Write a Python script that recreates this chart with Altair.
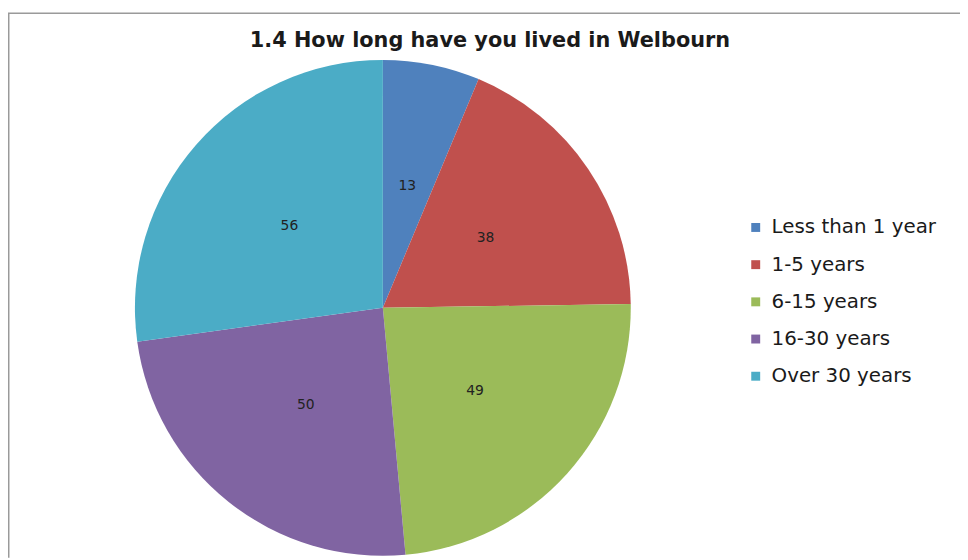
import altair as alt
import pandas as pd

# ---- data ----
categories = ["Less than 1 year", "1-5 years", "6-15 years", "16-30 years", "Over 30 years"]
counts = [13, 38, 49, 50, 56]
colors = ["#4F81BD", "#C0504D", "#9BBB59", "#8064A2", "#4BACC6"]
title_text = "1.4 How long have you lived in Welbourn"

df = pd.DataFrame({"category": categories, "count": counts,
                   "order": list(range(len(categories)))})
frame_df = pd.DataFrame({"k": [0]})

W, H = 960, 512
PAD_TOP = 40
R = 250
CX, CY = 378, 260
FONT = "DejaVu Sans"

base = alt.Chart(df).encode(
    theta=alt.Theta("count:Q", stack=True),
    order=alt.Order("order:Q", sort="ascending"),
)

pie = base.mark_arc(outerRadius=R).encode(
    color=alt.Color(
        "category:N",
        scale=alt.Scale(domain=categories, range=colors),
        legend=alt.Legend(
            title=None,
            orient="none",
            legendX=744,
            legendY=169,
            symbolType="square",
            symbolSize=81,
            symbolStrokeWidth=0,
            labelFont=FONT,
            labelFontSize=20,
            labelColor="#1a1a1a",
            labelOffset=6,
            rowPadding=17.5,
            labelLimit=300,
        ),
    ),
    x=alt.value(CX),
    y=alt.value(CY),
)

labels = base.mark_text(radius=R * 0.5, font=FONT, fontSize=14, color="#222222").encode(
    text=alt.Text("count:Q"),
    x=alt.value(CX),
    y=alt.value(CY),
)

top_rule = alt.Chart(frame_df).mark_rule(color="#9a9a9a", strokeWidth=1.5).encode(
    x=alt.value(0), x2=alt.value(W), y=alt.value(-37)
)
left_rule = alt.Chart(frame_df).mark_rule(color="#9a9a9a", strokeWidth=1.5).encode(
    x=alt.value(0.75), y=alt.value(-37), y2=alt.value(H)
)

chart = alt.layer(top_rule, left_rule, pie, labels).properties(
    width=W,
    height=H,
    padding={"left": 0, "top": PAD_TOP, "right": 0, "bottom": 0},
    autosize=alt.AutoSizeParams(type="none"),
    title=alt.TitleParams(
        text=title_text,
        font=FONT,
        fontSize=21,
        fontWeight="bold",
        color="#1a1a1a",
        anchor="middle",
        offset=2,
        dx=6,
        dy=41,
    ),
).configure_view(stroke=None)

chart.save("out.html", embed_options={"renderer": "svg", "actions": False})
